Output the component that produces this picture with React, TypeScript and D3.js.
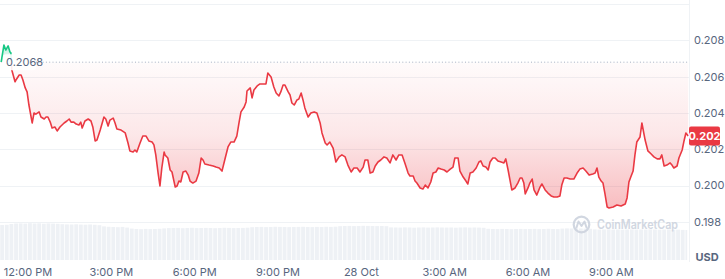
import React from "react";
import * as d3 from "d3";

// Reference time: 27 Oct 12:00 PM (UTC used for stable rendering)
const REF_TIME = Date.UTC(2024, 9, 27, 12, 0);

// minutes after 12:00 PM
const minutes = [
  -58, -52, -48, -43, -39, -37, -35, -28, -26, -19, -15, -11, -6, -2, 2, 9, 13, 17, 24, 28,
  35, 39, 43, 48, 52, 58, 63, 69, 78, 84, 89, 93, 99, 104, 110, 114, 117, 123, 130, 136,
  140, 145, 149, 156, 164, 168, 173, 177, 184, 188, 192, 201, 210, 216, 220, 227, 231, 235, 242, 248,
  255, 261, 268, 272, 276, 281, 285, 289, 294, 296, 302, 307, 311, 318, 322, 326, 330, 335, 341, 346,
  350, 356, 363, 369, 374, 378, 382, 391, 400, 406, 413, 419, 426, 432, 438, 445, 451, 456, 460, 467,
  471, 473, 480, 484, 488, 495, 501, 508, 514, 518, 525, 531, 536, 542, 546, 551, 555, 562, 566, 570,
  575, 581, 585, 590, 594, 598, 605, 611, 618, 624, 631, 635, 642, 646, 652, 659, 665, 672, 678, 685,
  691, 698, 704, 711, 717, 724, 728, 734, 739, 745, 750, 756, 762, 769, 775, 782, 788, 795, 801, 808,
  814, 821, 825, 832, 836, 840, 847, 853, 858, 864, 870, 875, 881, 886, 892, 899, 905, 912, 918, 922,
  929, 933, 940, 946, 950, 955, 961, 968, 974, 978, 983, 989, 994, 998, 1004, 1009, 1015, 1022, 1028, 1032,
  1037, 1041, 1045, 1052, 1058, 1063, 1067, 1071, 1074, 1080, 1084, 1089, 1093, 1099, 1106, 1110, 1117, 1123, 1130, 1136,
  1143, 1149, 1153, 1158, 1164, 1171, 1179, 1186, 1192, 1199, 1205, 1212, 1220, 1225, 1229, 1233, 1238, 1242, 1246, 1251,
  1255, 1264, 1272, 1281, 1290, 1294, 1298, 1302, 1307, 1311, 1315, 1322, 1326, 1333, 1339, 1346, 1352, 1359, 1365, 1369,
  1374, 1380, 1387, 1391, 1395, 1402, 1406, 1413, 1417, 1421, 1426,
];

const prices = [
  0.2068, 0.20775, 0.20747, 0.2077, 0.20736, 0.20731, 0.20637, 0.20572, 0.20582, 0.20609, 0.20609, 0.20582, 0.20538, 0.20516, 0.20444, 0.20345, 0.204, 0.20394, 0.20406, 0.20378,
  0.20367, 0.20378, 0.20378, 0.2035, 0.20317, 0.20323, 0.20301, 0.20323, 0.20345, 0.20356, 0.20367, 0.2035, 0.2035, 0.20339, 0.20334, 0.2035, 0.20317, 0.20356, 0.20367, 0.20356,
  0.20323, 0.20246, 0.20251, 0.20306, 0.20378, 0.20367, 0.20328, 0.20361, 0.20372, 0.20345, 0.20312, 0.20306, 0.2029, 0.20235, 0.20191, 0.20185, 0.20196, 0.20185, 0.20235, 0.20273,
  0.20273, 0.20246, 0.2024, 0.20224, 0.20169, 0.20069, 0.19998, 0.20097, 0.20185, 0.20169, 0.20152, 0.20086, 0.20075, 0.19992, 0.19998, 0.20025, 0.2002, 0.20075, 0.2008, 0.20058,
  0.20025, 0.20014, 0.20025, 0.20069, 0.20152, 0.20141, 0.20119, 0.20113, 0.20108, 0.20102, 0.20097, 0.2008, 0.20152, 0.20213, 0.2024, 0.2024, 0.20273, 0.2035, 0.20406, 0.20433,
  0.20461, 0.20521, 0.20538, 0.20483, 0.20527, 0.20549, 0.2056, 0.2056, 0.2056, 0.2062, 0.20598, 0.20543, 0.2051, 0.20494, 0.20516, 0.20554, 0.20554, 0.20516, 0.20499, 0.20455,
  0.20444, 0.20472, 0.20477, 0.2051, 0.20472, 0.20428, 0.20378, 0.204, 0.20406, 0.204, 0.20345, 0.2029, 0.20235, 0.20224, 0.2024, 0.20207, 0.2013, 0.20158, 0.20169, 0.20158,
  0.20113, 0.20075, 0.20097, 0.20097, 0.20075, 0.20102, 0.20141, 0.20141, 0.20069, 0.20075, 0.20108, 0.2013, 0.20141, 0.20158, 0.20152, 0.20125, 0.20169, 0.20141, 0.20169, 0.20169,
  0.20125, 0.20069, 0.20053, 0.20053, 0.20025, 0.20014, 0.19987, 0.19981, 0.20003, 0.19987, 0.2002, 0.20069, 0.20075, 0.20097, 0.20091, 0.20086, 0.20075, 0.20091, 0.20102, 0.20152,
  0.20152, 0.2008, 0.20047, 0.20025, 0.20009, 0.20069, 0.20075, 0.20097, 0.2013, 0.20136, 0.20108, 0.20102, 0.20086, 0.2013, 0.20152, 0.20152, 0.20136, 0.2013, 0.20125, 0.20147,
  0.20086, 0.20031, 0.19976, 0.19987, 0.20014, 0.20042, 0.20042, 0.20014, 0.19954, 0.19987, 0.20014, 0.20036, 0.19976, 0.19948, 0.19992, 0.20009, 0.19976, 0.19959, 0.19943, 0.19937,
  0.19937, 0.19943, 0.20003, 0.20042, 0.20042, 0.20036, 0.20036, 0.20069, 0.20091, 0.20097, 0.2008, 0.20058, 0.20064, 0.20069, 0.20097, 0.20047, 0.20025, 0.20014, 0.19959, 0.19882,
  0.19877, 0.19882, 0.19893, 0.19888, 0.19899, 0.19932, 0.2002, 0.20047, 0.2008, 0.20169, 0.2024, 0.20268, 0.20345, 0.20251, 0.20191, 0.20174, 0.20158, 0.20147, 0.20147, 0.20169,
  0.20108, 0.20113, 0.20125, 0.20113, 0.20097, 0.20108, 0.20152, 0.20196, 0.20246, 0.2029, 0.20273,
];

const OPEN_PRICE = 0.2068;
const OPEN_LABEL = "0.2068";
const LAST_LABEL = "0.202";
const yTickValues = [0.198, 0.2, 0.202, 0.204, 0.206, 0.208];
const gridValues = [0.198, 0.2, 0.202, 0.204, 0.206, 0.208, 0.21];

// volume bars, 10-minute buckets starting at minute -60
const VOL_START = -60;
const VOL_STEP = 10;
const volumes = [
  35, 35.2, 36, 36.5, 36.6, 36.4, 36.8, 36.5, 36.7, 36.3, 36.6, 36.4, 36.2,
  35.8, 35.6, 35.5, 35.7, 35.4, 35.3, 35.5, 35.2, 34.8,
  33.6, 33.2, 33, 32.8, 33.1, 32.4,
  31.4, 31, 30.8, 31.1, 30.9, 31, 31.2,
  31.6, 31.9, 32, 32.1, 31.8, 32, 32.2, 31.9, 32, 32.1, 32, 31.8, 32, 32.2, 32.1, 31.9, 32, 32.1, 32.3,
  32.8, 33, 33.1, 32.9, 33, 33.2, 33.1, 33, 32.9, 33, 33.1, 33.2, 33, 32.9, 33.1, 33, 33.2, 33.1, 33.3,
  33.8, 34, 34.1, 33.9, 34, 34.2, 34.1, 34, 33.9, 34, 33.8,
  32.6, 32.5, 32.4, 32.6, 32.5, 32.3, 32.5, 32.6, 32.4, 32.5, 32.6, 32.5, 32.4, 32.5, 32.3, 32.5, 32.6, 32.4, 32.5, 32.4, 32.2,
  31.2, 31, 30.9, 31.1, 31, 30.8, 31, 31.1, 30.9, 31, 31.1, 30.9, 31, 31.2, 31, 30.9,
  31.4, 31.6, 31.5, 31.7, 31.5, 31.4, 31.2,
  30.6, 30.4, 30.5, 30.6, 30.4, 30.5, 30.3, 30.5, 30.6, 30.4, 30.5, 30.4, 30.6, 30.5, 30.3, 30.4, 30.5, 30.2, 30.3, 30.1, 30,
];

const W = 725;
const H = 279;
const PLOT_RIGHT = 689;
const FONT = "Inter, 'Noto Sans', sans-serif";
const AXIS_COLOR = "#58667e";
const RED = "#ea3943";
const GREEN = "#16c784";

const toDate = (m: number) => new Date(REF_TIME + m * 60000);

export default function App() {
  const x = d3
    .scaleUtc()
    .domain([toDate(-60.5), toDate(1425.6)])
    .range([0, 688]);
  const y = d3.scaleLinear().domain([0.198, 0.208]).range([221.9, 40.4]);
  const vY = d3.scaleLinear().domain([0, 40]).range([260, 220]);

  const data = minutes.map((m, i) => ({ t: toDate(m), p: prices[i] }));
  const yBase = y(OPEN_PRICE);

  const line = d3
    .line<{ t: Date; p: number }>()
    .x((d) => x(d.t))
    .y((d) => y(d.p));
  const area = d3
    .area<{ t: Date; p: number }>()
    .x((d) => x(d.t))
    .y0(yBase)
    .y1((d) => y(d.p));

  const xTicks = x.ticks(d3.utcHour.every(3)!).filter((d) => x(d) > 10 && x(d) < 680);
  const fmt = (d: Date) =>
    d.getUTCHours() === 0 ? d3.utcFormat("%-d %b")(d) : d3.utcFormat("%-I:%M %p")(d);

  const last = data[data.length - 1];
  const lastY = y(last.p);

  return (
    <svg
      width={W}
      height={H}
      style={{ position: "absolute", left: 0, top: 0, background: "#fff" }}
      fontFamily={FONT}
    >
      <defs>
        <clipPath id="above">
          <rect x={0} y={0} width={PLOT_RIGHT} height={yBase} />
        </clipPath>
        <clipPath id="below">
          <rect x={0} y={yBase} width={PLOT_RIGHT} height={H - yBase} />
        </clipPath>
        <linearGradient id="redGrad" gradientUnits="userSpaceOnUse" x1={0} y1={yBase} x2={0} y2={y(0.1988)}>
          <stop offset="0" stopColor={RED} stopOpacity={0.02} />
          <stop offset="0.5" stopColor={RED} stopOpacity={0.12} />
          <stop offset="1" stopColor={RED} stopOpacity={0.33} />
        </linearGradient>
        <linearGradient id="greenGrad" gradientUnits="userSpaceOnUse" x1={0} y1={y(0.2078)} x2={0} y2={yBase}>
          <stop offset="0" stopColor={GREEN} stopOpacity={0.3} />
          <stop offset="1" stopColor={GREEN} stopOpacity={0.05} />
        </linearGradient>
      </defs>

      {/* grid */}
      {gridValues.map((v) => (
        <line key={v} x1={0} x2={PLOT_RIGHT} y1={Math.round(y(v)) + 0.5} y2={Math.round(y(v)) + 0.5} stroke="#eff2f5" strokeWidth={1} />
      ))}

      {/* volume */}
      {volumes.map((v, i) => {
        const m0 = VOL_START + i * VOL_STEP;
        const x0 = Math.max(0, x(toDate(m0)));
        const x1 = Math.min(688, x(toDate(m0 + VOL_STEP)));
        return (
          <rect key={i} x={x0} y={vY(v)} width={Math.max(0, x1 - x0 - 0.8)} height={vY(0) - vY(v)} fill="#eef1f5" />
        );
      })}

      {/* right axis border */}
      <line x1={PLOT_RIGHT + 0.5} x2={PLOT_RIGHT + 0.5} y1={0} y2={262} stroke="#eff2f5" />

      {/* areas */}
      <path d={area(data) || ""} fill="url(#redGrad)" clipPath="url(#below)" />
      <path d={area(data) || ""} fill="url(#greenGrad)" clipPath="url(#above)" />

      {/* baseline dotted */}
      <line x1={36} x2={PLOT_RIGHT} y1={yBase} y2={yBase} stroke="#a6b0c3" strokeDasharray="1 2.3" strokeWidth={1} />

      {/* lines */}
      <path d={line(data) || ""} fill="none" stroke={RED} strokeWidth={1.6} strokeLinejoin="round" clipPath="url(#below)" />
      <path d={line(data) || ""} fill="none" stroke={GREEN} strokeWidth={1.6} strokeLinejoin="round" clipPath="url(#above)" />

      {/* open label */}
      <rect x={3} y={yBase - 8} width={33} height={16} rx={3} fill="#fff" fillOpacity={0.9} />
      <text x={6} y={yBase} dy="0.35em" fontSize={11} fill={AXIS_COLOR}>
        {OPEN_LABEL}
      </text>

      {/* y axis labels */}
      {yTickValues.map((v) => (
        <text key={v} x={694} y={y(v)} dy="0.35em" fontSize={11} fill={AXIS_COLOR}>
          {v.toFixed(3)}
        </text>
      ))}

      {/* last price tag */}
      <rect x={689} y={lastY - 9.5} width={31} height={19} rx={2} fill={RED} />
      <text x={704.5} y={lastY} dy="0.35em" textAnchor="middle" fontSize={11} fontWeight={700} fill="#fff">
        {LAST_LABEL}
      </text>

      <text x={707} y={257} dy="0.35em" textAnchor="middle" fontSize={11} fontWeight={700} fill={AXIS_COLOR}>
        USD
      </text>

      {/* x axis labels */}
      {xTicks.map((d) => (
        <text key={d.getTime()} x={x(d)} y={272} dy="0.35em" textAnchor="middle" fontSize={11} fill={AXIS_COLOR}>
          {fmt(d)}
        </text>
      ))}

      {/* watermark */}
      <g opacity={0.9}>
        <circle cx={581.5} cy={224.5} r={7.8} fill="none" stroke="#cdd3de" strokeWidth={2.2} />
        <path d="M576.5,227.5 L578.5,221.5 L581.5,226 L584.5,221.5 L586.5,227.5" fill="none" stroke="#cdd3de" strokeWidth={2} strokeLinejoin="round" strokeLinecap="round" />
        <text x={597} y={225} dy="0.35em" fontSize={12.5} fontWeight={600} fill="#cdd3de" textLength={81} lengthAdjust="spacingAndGlyphs">
          CoinMarketCap
        </text>
      </g>
    </svg>
  );
}
